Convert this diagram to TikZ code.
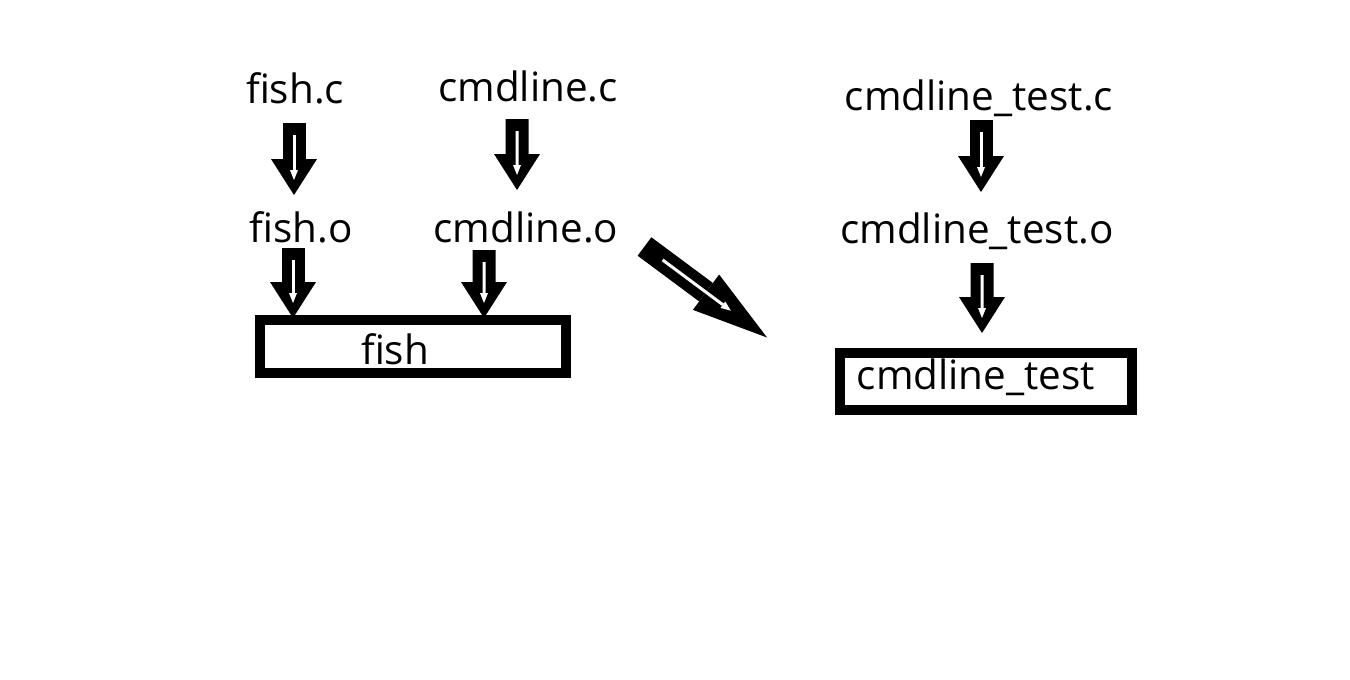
\documentclass[tikz,border=0pt]{standalone}
\usepackage{fontspec}
\setmainfont{Open Sans}
\usetikzlibrary{arrows.meta}
\def\s{0.02}
\def\punkt#1#2{({(#1)*\s},{-(#2)*\s})}

\begin{document}
\begin{tikzpicture}[>=latex,
  datei/.style={anchor=base,inner sep=0pt,font=\fontsize{23}{28}\selectfont},
  kasten/.style={draw,line width=0.2cm,inner sep=0pt,outer sep=0pt},
  pfeil/.style={line width=0.46cm,-{Triangle[width=0.92cm,length=0.72cm,line width=0pt]},
    postaction={draw=white,line width=0.06cm,shorten <=0.24cm,shorten >=0.3cm,
      -{Triangle[width=0.16cm,length=0.2cm,line width=0pt]}}},
  schraeg/.style={line width=0.46cm,-{Triangle[width=0.88cm,length=1.52cm,line width=0pt]},
    postaction={draw=white,line width=0.06cm,shorten <=0.45cm,shorten >=0.9cm,
      -{Triangle[width=0.16cm,length=0.2cm,line width=0pt]}}}]
\useasboundingbox \punkt{0}{0} rectangle \punkt{1350}{679};
\node[datei] (fishc) at \punkt{295}{103} {fish.c};
\node[datei] (cmdlinec) at \punkt{528}{101} {cmdline.c};
\node[datei] (testc) at \punkt{979}{110} {cmdline\_test.c};
\node[datei] (fisho) at \punkt{301}{242} {fish.o};
\node[datei] (cmdlineo) at \punkt{526}{242} {cmdline.o};
\node[datei] (testo) at \punkt{977}{243} {cmdline\_test.o};
\node[kasten,minimum width=6.12cm,minimum height=1.06cm] (fishbox) at \punkt{413}{346.5} {};
\node[datei] (fish) at \punkt{395}{364} {fish};
\node[kasten,minimum width=5.84cm,minimum height=1.14cm] (testbox) at \punkt{986}{381.5} {};
\node[datei] (test) at \punkt{976}{389} {cmdline\_test};
% compile steps
\draw[pfeil] ([shift={\punkt{-1}{20}}]fishc.base) -- ([shift={\punkt{-7}{-47}}]fisho.base);
\draw[pfeil] ([shift={\punkt{-11}{18}}]cmdlinec.base) -- ([shift={\punkt{-9}{-52}}]cmdlineo.base);
\draw[pfeil] ([shift={\punkt{2}{10}}]testc.base) -- ([shift={\punkt{4}{-51}}]testo.base);
% link steps
\draw[pfeil] ([shift={\punkt{-8}{6}}]fisho.base) -- ([shift={\punkt{-120}{-2}}]fishbox.north);
\draw[pfeil] ([shift={\punkt{-42}{8}}]cmdlineo.base) -- ([shift={\punkt{71}{-2}}]fishbox.north);
\draw[pfeil] ([shift={\punkt{5}{20}}]testo.base) -- ([shift={\punkt{-4}{-20}}]testbox.north);
\draw[schraeg] ([shift={\punkt{118.5}{4.5}}]cmdlineo.base) -- ([shift={\punkt{-73}{-15.5}}]testbox.north west);
\end{tikzpicture}
\end{document}
